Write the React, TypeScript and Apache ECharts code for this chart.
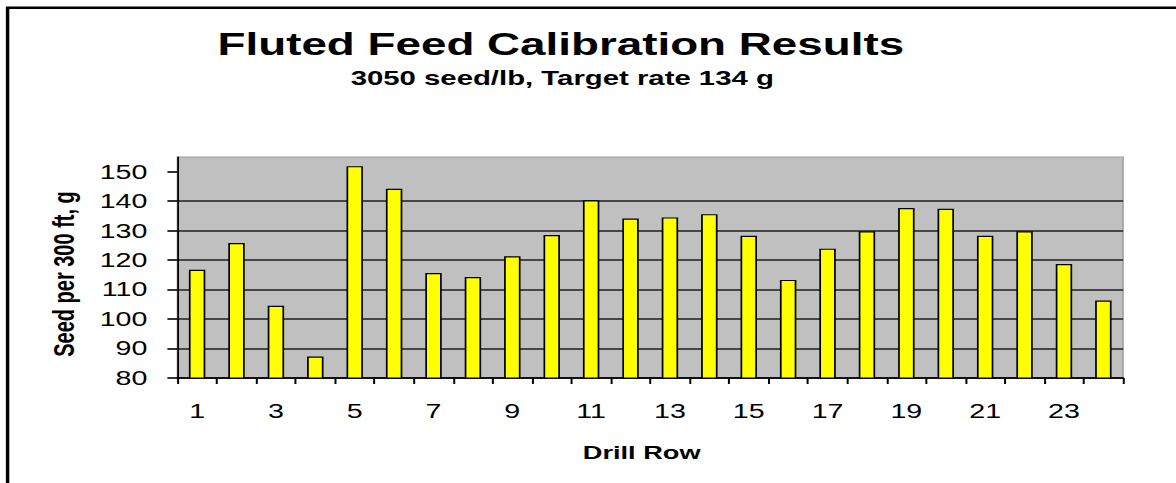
import React, { useEffect, useRef } from "react";
import * as echarts from "echarts";

// ---- data ----
const categories = ["1", "2", "3", "4", "5", "6", "7", "8", "9", "10", "11", "12", "13", "14", "15", "16", "17", "18", "19", "20", "21", "22", "23", "24"];
const seedPer300ft = [116.7, 125.8, 104.5, 87.3, 151.9, 144.2, 115.6, 114.3, 121.3, 128.5, 140.3, 134.1, 134.5, 135.6, 128.3, 113.3, 123.9, 129.8, 137.7, 137.4, 128.3, 129.8, 118.7, 106.3];
const yTicks = [80, 90, 100, 110, 120, 130, 140, 150];

const titleText = "Fluted Feed Calibration Results";
const subtitleText = "3050 seed/lb, Target rate 134 g";
const xName = "Drill Row";
const yName = "Seed per 300 ft, g";

// The reference picture is horizontally stretched; draw at the original width and stretch.
const BASE_W = 822;
const H = 483;
const STRETCH = 1176 / BASE_W;
const FONT = "'Liberation Sans', Arial, sans-serif";

export default function App() {
  const ref = useRef<HTMLDivElement>(null);

  useEffect(() => {
    if (!ref.current) return;
    const chart = echarts.init(ref.current, undefined, { renderer: "svg" });
    chart.setOption({
      animation: false,
      backgroundColor: "#ffffff",
      textStyle: { fontFamily: FONT },
      title: [
        {
          text: titleText,
          left: 392,
          top: 28,
          padding: 0,
          textAlign: "center",
          textStyle: { fontSize: 32, fontWeight: "bold", color: "#000", fontFamily: FONT },
        },
        {
          text: subtitleText,
          left: 393,
          top: 67,
          padding: 0,
          textAlign: "center",
          textStyle: { fontSize: 20.5, fontWeight: "bold", color: "#000", fontFamily: FONT },
        },
      ],
      graphic: [
        {
          type: "polyline",
          shape: { points: [[BASE_W, 7.8], [5.3, 7.8], [5.3, H]] },
          style: { stroke: "#000", lineWidth: 2.4, fill: null },
          silent: true,
        },
      ],
      grid: {
        left: 124,
        right: 37,
        top: 157,
        bottom: 105,
        show: true,
        backgroundColor: "#c0c0c0",
        borderColor: "#9a9a9a",
        borderWidth: 1,
      },
      xAxis: {
        type: "category",
        data: categories,
        boundaryGap: true,
        axisLine: { show: true, lineStyle: { color: "#000", width: 1.5 } },
        axisTick: { show: true, interval: 0, length: 6, lineStyle: { color: "#000", width: 1.4 } },
        axisLabel: { interval: 1, margin: 23, color: "#000", fontSize: 20, fontFamily: FONT },
        splitLine: { show: false },
        name: xName,
        nameLocation: "middle",
        nameGap: 65,
        nameTextStyle: { fontSize: 19, fontWeight: "bold", color: "#000", fontFamily: FONT, padding: [0, 12, 0, 0] },
      },
      yAxis: {
        type: "value",
        min: 80,
        max: 155,
        interval: 10,
        axisLine: { show: true, lineStyle: { color: "#000", width: 1.2 } },
        axisTick: { show: true, length: 7, customValues: yTicks, lineStyle: { color: "#000", width: 1.6 } },
        axisLabel: { customValues: yTicks, margin: 21, color: "#000", fontSize: 20, fontFamily: FONT },
        splitLine: { show: true, showMaxLine: false, lineStyle: { color: "#1e1e1e", width: 1.7 } },
        name: yName,
        nameLocation: "middle",
        nameRotate: 90,
        nameGap: 69,
        nameTextStyle: { fontSize: 20, fontWeight: "bold", color: "#000", fontFamily: FONT, padding: [0, 13, 0, 0] },
      },
      series: [
        {
          type: "bar",
          data: seedPer300ft,
          barWidth: 11.5,
          itemStyle: { color: "#ffff00", borderColor: "#000", borderWidth: 1.2 },
        },
      ],
    });
    return () => chart.dispose();
  }, []);

  return (
    <div style={{ position: "fixed", left: 0, top: 0, width: 1176, height: H, overflow: "hidden", background: "#fff" }}>
      <div
        ref={ref}
        style={{
          position: "absolute",
          left: 0,
          top: 0,
          width: BASE_W,
          height: H,
          transform: `scaleX(${STRETCH})`,
          transformOrigin: "0 0",
        }}
      />
    </div>
  );
}
